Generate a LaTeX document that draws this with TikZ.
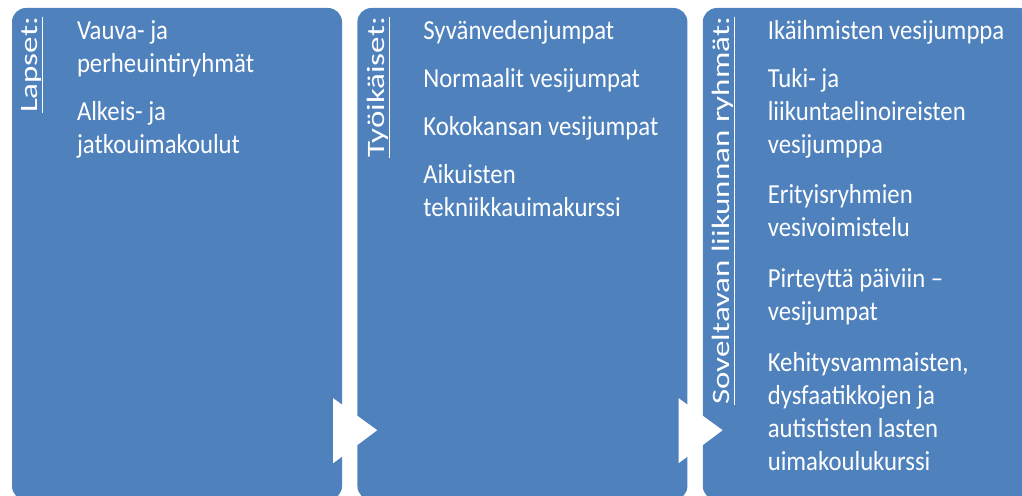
\documentclass[tikz,border=0pt]{standalone}
\usepackage{fontspec}
\setmainfont{Carlito}
\newfontfamily\listfont[FakeStretch=0.9]{Carlito}
\newfontfamily\titlefont[FakeStretch=1.32]{Carlito}
\usetikzlibrary{positioning,calc}
\definecolor{boxblue}{HTML}{4F81BD}

\begin{document}
\begin{tikzpicture}[x=1pt,y=1pt,
  group/.style={rectangle,rounded corners=14pt,fill=boxblue,minimum width=330pt,minimum height=492pt,inner sep=0pt},
  grouptitle/.style={rotate=90,anchor=base east,inner sep=0pt,text=white,font=\titlefont\fontsize{25}{30}\selectfont},
  grouplist/.style={anchor=north west,inner sep=0pt,align=left,text=white,font=\listfont\fontsize{27.5}{33}\selectfont},
  underbar/.style={white,line width=1.3pt},
  node distance=15pt]
  \useasboundingbox (0,0) rectangle (1022,495);
  \clip (0,0) rectangle (1022,495);
  \node[group] (lapset) at (177,241) {};
  \node[group,right=of lapset] (tyoikaiset) {};
  \node[group,right=of tyoikaiset] (soveltava) {};

  \fill[white] ($(lapset.south east)+(-9,102)$) -- ($(lapset.south east)+(-9,37)$) -- ($(lapset.south east)+(35,70)$) -- cycle;
  \fill[white] ($(tyoikaiset.south east)+(-9,102)$) -- ($(tyoikaiset.south east)+(-9,37)$) -- ($(tyoikaiset.south east)+(35,70)$) -- cycle;

  \node[grouptitle] (lapsettitle) at ($(lapset.north west)+(26,-9)$) {Lapset:};
  \node[grouptitle] (tyoikaisettitle) at ($(tyoikaiset.north west)+(27,-9)$) {Työikäiset:};
  \node[grouptitle] (soveltavatitle) at ($(soveltava.north west)+(27,-9)$) {Soveltavan liikunnan ryhmät:};
  \draw[underbar] ($(lapsettitle.base west)+(5,0)$) -- ($(lapsettitle.base east)+(5,0)$);
  \draw[underbar] ($(tyoikaisettitle.base west)+(5,0)$) -- ($(tyoikaisettitle.base east)+(5,0)$);
  \draw[underbar] ($(soveltavatitle.base west)+(5,0)$) -- ($(soveltavatitle.base east)+(5,0)$);

  \node[grouplist] (lapsetlist) at ($(lapset.north west)+(65,-8)$)
    {\strut Vauva- ja\\perheuintiryhmät\\[15pt]Alkeis- ja\\jatkouimakoulut};
  \node[grouplist] (tyoikaisetlist) at ($(tyoikaiset.north west)+(66,-8)$)
    {\strut Syvänvedenjumpat\\[15pt]Normaalit vesijumpat\\[15pt]Kokokansan vesijumpat\\[15pt]Aikuisten\\tekniikkauimakurssi};
  \node[grouplist] (soveltavalist) at ($(soveltava.north west)+(65,-8)$)
    {\strut Ikäihmisten vesijumppa\\[15pt]Tuki- ja\\liikuntaelinoireisten\\vesijumppa\\[17pt]Erityisryhmien\\vesivoimistelu\\[18pt]Pirteyttä päiviin –\\vesijumpat\\[18pt]Kehitysvammaisten,\\dysfaatikkojen ja\\autististen lasten\\uimakoulukurssi};
\end{tikzpicture}
\end{document}
